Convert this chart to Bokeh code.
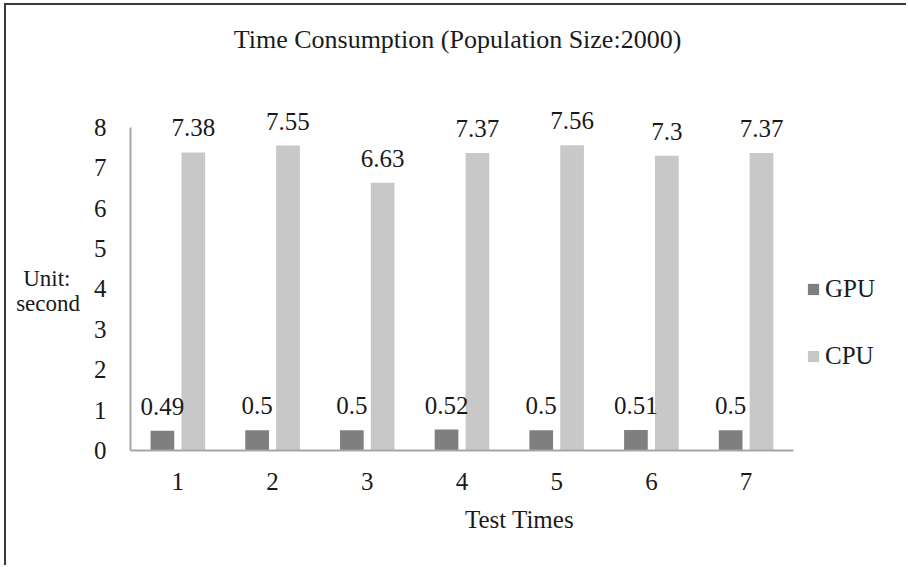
from bokeh.plotting import figure
from bokeh.models import ColumnDataSource, Range1d, FixedTicker, Label, Legend, LegendItem
from bokeh.transform import dodge
from bokeh.core.properties import value
from bokeh.embed import file_html
from bokeh.resources import INLINE

# Run times (seconds) for each test, population size 2000
test_times = [1, 2, 3, 4, 5, 6, 7]
gpu_seconds = [0.49, 0.5, 0.5, 0.52, 0.5, 0.51, 0.5]
cpu_seconds = [7.38, 7.55, 6.63, 7.37, 7.56, 7.3, 7.37]
y_ticks = [0, 1, 2, 3, 4, 5, 6, 7, 8]
series_names = ["GPU", "CPU"]
title_text = "Time Consumption (Population Size:2000)"
x_title = "Test Times"
# leading blank lines push the unit note down beside the 0-8 scale;
# the trailing spaces keep the short first line roughly centred
y_title = "\n" * 5 + "Unit:\u00a0\u2006\nsecond"

FONT = "Liberation Serif"
TEXT = "#1a1a1a"
GPU_COLOR = "#7f7f7f"
CPU_COLOR = "#c8c8c8"
AXIS_COLOR = "#a6a6a6"

src = ColumnDataSource(dict(
    x=test_times,
    gpu=gpu_seconds,
    cpu=cpu_seconds,
    gpu_txt=[str(v) for v in gpu_seconds],
    cpu_txt=[str(v) for v in cpu_seconds],
))

p = figure(width=902, height=562, output_backend="svg", toolbar_location=None,
           title=None,
           x_range=Range1d(0.5, 8.715), y_range=Range1d(0, 11.02),
           min_border_left=124, min_border_right=0,
           min_border_top=0, min_border_bottom=117)
p.styles = {"margin-left": "4px", "margin-top": "3px",
            "border-left": "2px solid #3a3a3a", "border-top": "2px solid #3a3a3a"}
p.outline_line_color = None
p.grid.visible = False
p.background_fill_color = "white"
p.border_fill_color = "white"

bar_w = 0.25
off = 0.163
gpu_r = p.vbar(x=dodge("x", -off), top="gpu", width=bar_w, source=src,
               fill_color=GPU_COLOR, line_color=None)
cpu_r = p.vbar(x=dodge("x", off), top="cpu", width=bar_w, source=src,
               fill_color=CPU_COLOR, line_color=None)

lbl = dict(text_align="center", text_baseline="alphabetic", y_offset=-24.5,
           text_font=value(FONT), text_font_size="25px", text_color=TEXT, source=src)
p.text(x=dodge("x", -off), y="gpu", text="gpu_txt", **lbl)
p.text(x=dodge("x", off), y="cpu", text="cpu_txt", **lbl)

# axes
p.xaxis.ticker = FixedTicker(ticks=test_times)
p.xaxis.bounds = (0.5, 7.5)
p.yaxis.ticker = FixedTicker(ticks=y_ticks)
p.yaxis.bounds = (0, 8)
for ax in (p.xaxis, p.yaxis):
    ax.major_tick_line_color = None
    ax.minor_tick_line_color = None
    ax.axis_line_color = AXIS_COLOR
    ax.axis_line_width = 2
    ax.major_label_text_font = FONT
    ax.major_label_text_font_size = "25px"
    ax.major_label_text_color = TEXT
    ax.axis_label_text_font = FONT
    ax.axis_label_text_font_size = "25px"
    ax.axis_label_text_font_style = "normal"
    ax.axis_label_text_color = TEXT
p.yaxis.major_label_standoff = 18
p.xaxis.major_label_standoff = 16
p.xaxis.axis_label = x_title
p.xaxis.axis_label_standoff = 13
p.yaxis.axis_label = y_title
p.yaxis.axis_label_orientation = "horizontal"
p.yaxis.axis_label_text_font_size = "23px"
p.yaxis.axis_label_standoff = 11
p.yaxis.axis_label_text_line_height = 1.0

# chart title
p.add_layout(Label(x=3.953, y=10.17, text=title_text, text_align="center",
                   text_baseline="alphabetic", text_font=FONT,
                   text_font_size="26px", text_color=TEXT))

legend = Legend(items=[LegendItem(label=series_names[0], renderers=[gpu_r]),
                       LegendItem(label=series_names[1], renderers=[cpu_r])],
                location=(676, 80), padding=0, margin=0,
                border_line_color=None, background_fill_alpha=0,
                glyph_width=14, glyph_height=14, label_standoff=5, spacing=39,
                label_text_font=FONT, label_text_font_size="25px",
                label_text_color=TEXT)
p.add_layout(legend)

open("out.html", "w").write(file_html(p, INLINE))
